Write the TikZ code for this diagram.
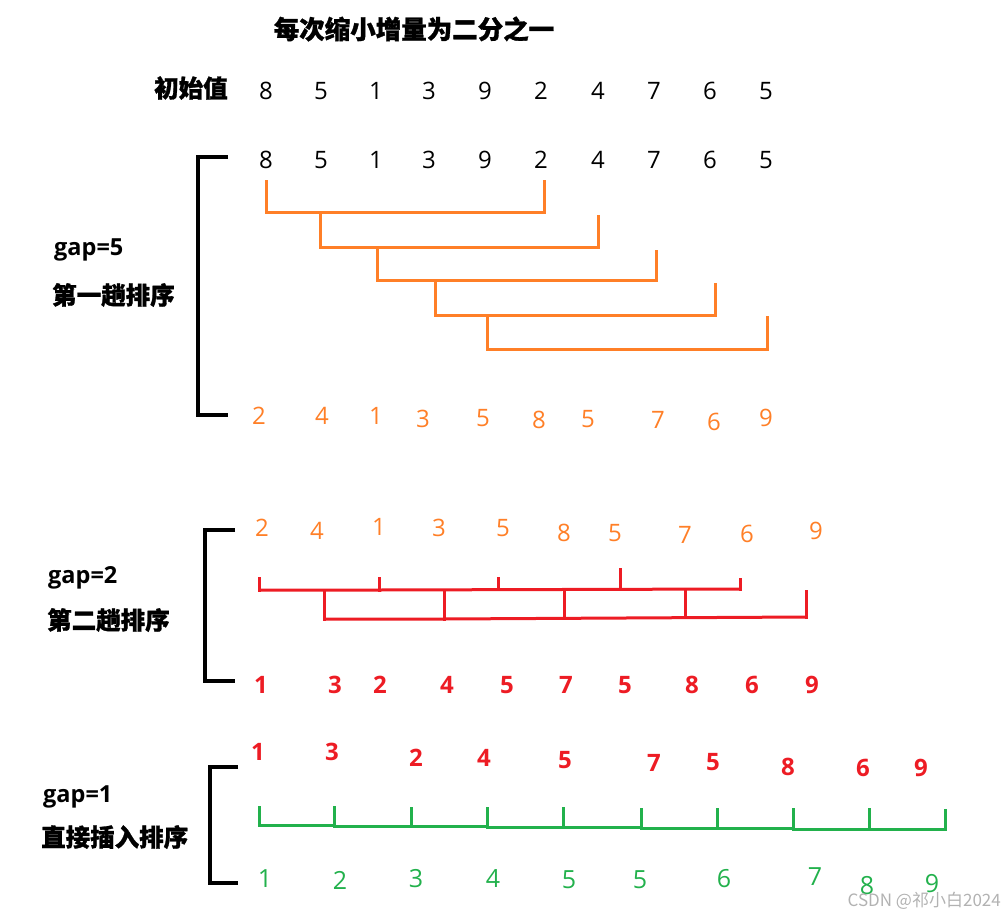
\documentclass[tikz,border=0pt]{standalone}
\usepackage{fontspec}
\setmainfont{Open Sans}
\newfontfamily\cjk{Noto Sans CJK SC}[BoldFeatures={FakeBold=1.2}]
\definecolor{orgc}{RGB}{255,127,39}
\definecolor{redc}{RGB}{237,28,36}
\definecolor{grnc}{RGB}{34,177,76}
\begin{document}
\begin{tikzpicture}[x=1pt,y=-1pt,
  num/.style={font=\fontsize{24}{28}\selectfont, inner sep=0pt},
  bnum/.style={num, text=black},
  onum/.style={num, text=orgc},
  rnum/.style={font=\bfseries\fontsize{24}{28}\selectfont, inner sep=0pt, text=redc},
  gnum/.style={font=\fontsize{25}{29}\selectfont, inner sep=0pt, text=grnc},
  lab/.style={font=\bfseries\fontsize{23.5}{28}\selectfont, anchor=west, inner sep=0pt},
  clab/.style={font=\cjk\bfseries\fontsize{24.5}{28}\selectfont, anchor=west, inner sep=0pt},
  bk/.style={draw=black, line width=3.5pt},
  obr/.style={draw=orgc, line width=3pt},
  rbr/.style={draw=redc, line width=3pt},
  gbr/.style={draw=grnc, line width=3pt}]
\useasboundingbox (0,0) rectangle (1004,918);

% title
\node[font=\cjk\bfseries\fontsize{25.5}{28}\selectfont, inner sep=0pt] (title) at (414,29) {每次缩小增量为二分之一};
\node[clab] (init) at (154,88) {初始值};

% initial row
\foreach \v/\x [count=\i] in {8/266,5/321,1/376,3/429,9/485,2/541,4/598,7/654,6/710,5/766}
  \node[bnum] (r0-\i) at (\x,91) {\v};

% gap=5
\node[lab] (g5) at (54,250) {gap=5};
\node[clab] (t1) at (52,295) {第一趟排序};
\draw[bk] (228,157) -| (198,415) -- (228,415);
\foreach \v/\x [count=\i] in {8/266,5/321,1/376,3/429,9/485,2/541,4/598,7/654,6/710,5/766}
  \node[bnum] (r1-\i) at (\x,160) {\v};
\draw[obr] (266,180) |- (544,212) -- (544,180);
\draw[obr] (320,212) |- (598,247) -- (598,215);
\draw[obr] (377,247) |- (656,280) -- (656,250);
\draw[obr] (435,280) |- (715,315) -- (715,283);
\draw[obr] (487,315) |- (767,349) -- (767,316);
\foreach \v/\x/\y [count=\i] in {2/259/416,4/322/416,1/376/416,3/423/419,5/483/418,8/539/420,5/588/419,7/658/420,6/714/422,9/766/418}
  \node[onum] (r2-\i) at (\x,\y) {\v};

% gap=2
\node[lab] (g2) at (48,578) {gap=2};
\node[clab] (t2) at (47,620) {第二趟排序};
\draw[bk] (235,530) -| (205,681) -- (235,681);
\foreach \v/\x/\y [count=\i] in {2/262/528,4/317/531,1/379/527,3/439/528,5/503/528,8/564/533,5/615/533,7/685/535,6/747/534,9/816/531}
  \node[onum] (r3-\i) at (\x,\y) {\v};
\draw[rbr] (259,590) -- (379,590) -- (740,589);
\draw[rbr] (259,577) -- (259,591.5);
\draw[rbr] (379,577) -- (379,591.5);
\draw[rbr] (498,577) -- (498,589);
\draw[rbr] (620,568) -- (620,589);
\draw[rbr] (740,578) -- (740,590.5);
\draw[rbr] (324,619) -- (444,619) -- (806,617);
\draw[rbr] (324,590) -- (324,620.5);
\draw[rbr] (444,590) -- (444,620.5);
\draw[rbr] (564,590) -- (564,618);
\draw[rbr] (685,590) -- (685,618);
\draw[rbr] (806,590) -- (806,618.5);
\foreach \v/\x [count=\i] in {1/261,3/335,2/380,4/447,5/507,7/566,5/625,8/692,6/752,9/812}
  \node[rnum] (r4-\i) at (\x,685) {\v};

% gap=1
\node[lab] (g1) at (43,797) {gap=1};
\node[clab] (t3) at (41,837) {直接插入排序};
\draw[bk] (238,767) -| (210,883) -- (238,883);
\foreach \v/\x/\y [count=\i] in {1/258/752,3/332/752,2/416/758,4/484/758,5/565/760,7/654/763,5/713/762,8/788/767,6/863/768,9/921/768}
  \node[rnum] (r5-\i) at (\x,\y) {\v};
\draw[gbr] (259,825) -- (334,825);
\draw[gbr] (334,826) -- (487,826);
\draw[gbr] (487,827) -- (640,827);
\draw[gbr] (640,828) -- (793,828);
\draw[gbr] (793,829) -- (946,829);
\foreach \x/\t/\b in {259/806/826.5,334/806/827.5,411/807/827.5,487/807/828.5,563/807/828.5,641/808/829.5,717/808/829.5,793/808/830.5,869/808/830.5,945/809/830.5}
  \draw[gbr] (\x,\t) -- (\x,\b);
\foreach \v/\x/\y [count=\i] in {1/265/879,2/340/880,3/416/879,4/493/879,5/569/880,5/640/880,6/724/879,7/815/877,8/867/886,9/932/884}
  \node[gnum] (r6-\i) at (\x,\y) {\v};

% watermark
\node[font=\cjk\fontsize{17}{19}\selectfont, text=black!30, anchor=east, inner sep=0pt] (wm) at (1001,901) {CSDN @祁小白2024};
\end{tikzpicture}
\end{document}
